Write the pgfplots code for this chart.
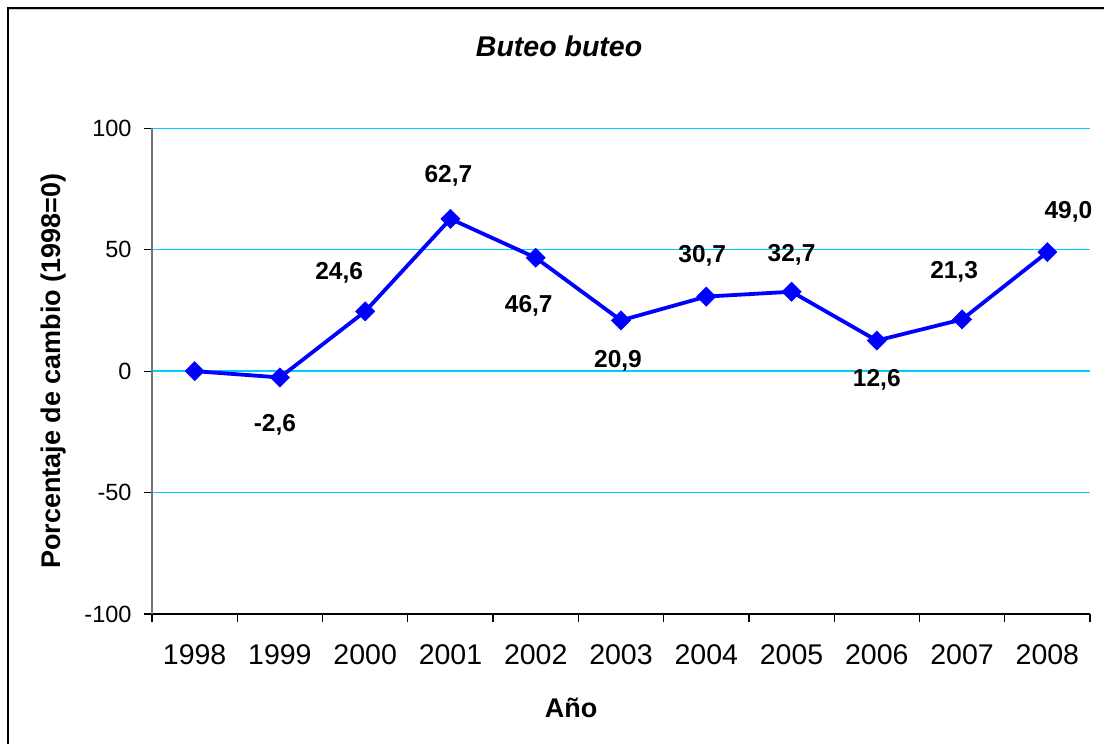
\documentclass[border=0pt]{standalone}
\usepackage{pgfplots}
\pgfplotsset{compat=1.18}
\usepackage{pgfplotstable}
\usepackage{fontspec}
\setmainfont{Liberation Sans}
\definecolor{gridcyan}{RGB}{0,204,255}
\definecolor{lineblue}{RGB}{0,0,255}

\pgfplotstableread{
x y lab dx dy
0 0 {} 0 0
1 -2.6 {-2,6} -5 -54
2 24.6 {24,6} -26 32
3 62.7 {62,7} -2 36
4 46.7 {46,7} -7 -54.5
5 20.9 {20,9} -3 -47
6 30.7 {30,7} -4 34
7 32.7 {32,7} 0 30.5
8 12.6 {12,6} 0 -46
9 21.3 {21,3} -8 41
10 49.0 {49,0} 21 34
}\datatable

\begin{document}
\begin{tikzpicture}
\useasboundingbox (0,0) rectangle (1104pt,744pt);
\fill[white] (0,0) rectangle (1104pt,744pt);
\begin{axis}[
  at={(152pt,130pt)}, anchor=south west,
  scale only axis, width=938pt, height=485.7pt,
  xmin=-0.5, xmax=10.5, ymin=-100, ymax=100,
  clip=false,
  axis x line*=bottom, axis y line*=left,
  axis line style={-},
  x axis line style={black, line width=1.2pt},
  y axis line style={black!55, line width=1.2pt},
  xtick={0,...,10},
  xticklabels={1998,1999,2000,2001,2002,2003,2004,2005,2006,2007,2008},
  major x tick style={draw=none},
  minor xtick={-0.5,0.5,1.5,2.5,3.5,4.5,5.5,6.5,7.5,8.5,9.5,10.5},
  minor x tick style={black, line width=1.2pt},
  ytick={-100,-50,0,50,100},
  y tick style={black, line width=1.2pt},
  tick align=outside,
  major tick length=8pt, minor tick length=8pt,
  ymajorgrids,
  grid style={gridcyan, line width=1.4pt},
  /pgf/number format/assume math mode=true,
  xticklabel style={font=\fontsize{28.5}{34}\selectfont, yshift=-19pt},
  yticklabel style={font=\fontsize{23.5}{28}\selectfont, xshift=-9pt},
  xlabel={Año},
  xlabel style={at={(axis description cs:0.4467,-0.1935)}, anchor=center, font=\fontsize{27}{32}\selectfont\bfseries},
  ylabel={Porcentaje de cambio (1998=0)},
  ylabel style={at={(axis description cs:-0.1055,0.5)}, anchor=center, font=\fontsize{27}{32}\selectfont\bfseries},
  title={Buteo buteo},
  title style={at={(axis description cs:0.434,1.157)}, anchor=center, font=\fontsize{28.5}{34}\selectfont\bfseries\itshape},
]
\addplot[lineblue, line width=3.8pt, mark=square*, mark size=6.8pt,
  mark options={rotate=45, solid, fill=lineblue, draw=lineblue, line width=0.5pt},
  nodes near coords, point meta=explicit symbolic,
  visualization depends on={\thisrow{dx} \as \ldx},
  visualization depends on={\thisrow{dy} \as \ldy},
  every node near coord/.append style={anchor=base, xshift={\ldx*1pt}, yshift={\ldy*1pt},
    font=\fontsize{24.5}{29}\selectfont\bfseries, text=black, inner sep=0pt},
] table[x=x, y=y, meta=lab] {\datatable};
\end{axis}
\draw[black!20, line width=1pt] (9pt,734.3pt) -- (1110pt,734.3pt);
\draw[black, line width=2pt] (8pt,-10pt) -- (8pt,736pt) -- (1120pt,736pt);
\end{tikzpicture}
\end{document}
